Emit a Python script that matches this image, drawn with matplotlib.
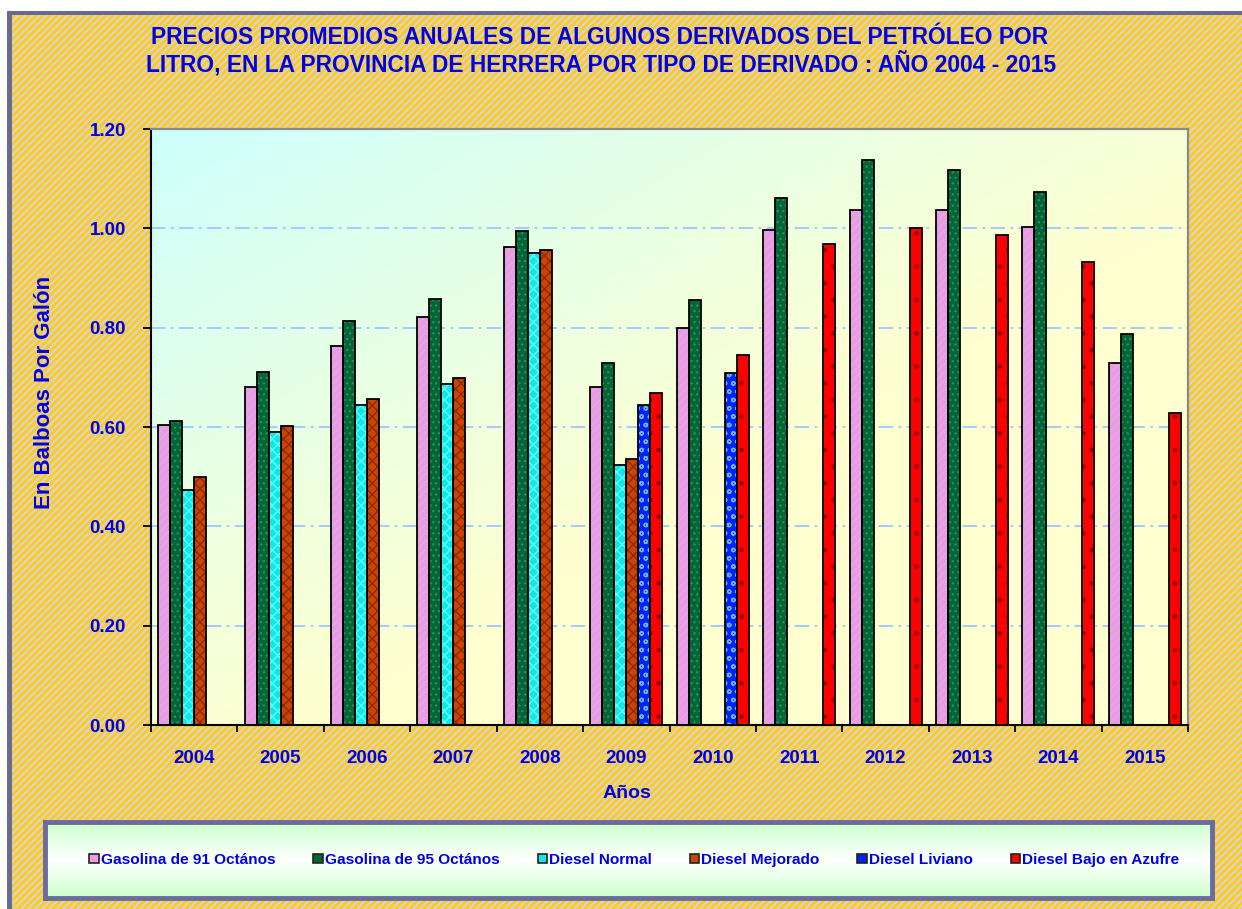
# Numpy (Array computing)
import numpy as np
# Matplotlib (Visualization)
import matplotlib
matplotlib.use('Agg')
import matplotlib.pyplot as plt
from matplotlib.patches import Patch
import sys

# Data (price per litre, balboas).
years = ['2004', '2005', '2006', '2007', '2008', '2009',
         '2010', '2011', '2012', '2013', '2014', '2015']
gasolina_91 = [0.605, 0.680, 0.763, 0.821, 0.963, 0.680, 0.800, 0.997, 1.037, 1.037, 1.003, 0.729]
gasolina_95 = [0.613, 0.711, 0.813, 0.858, 0.994, 0.729, 0.856, 1.062, 1.138, 1.117, 1.074, 0.788]
diesel_normal = [0.474, 0.589, 0.644, 0.687, 0.951, 0.523, None, None, None, None, None, None]
diesel_mejorado = [0.499, 0.603, 0.656, 0.699, 0.956, 0.536, None, None, None, None, None, None]
diesel_liviano = [None, None, None, None, None, 0.644, 0.708, None, None, None, None, None]
diesel_azufre = [None, None, None, None, None, 0.668, 0.745, 0.969, 1.000, 0.987, 0.932, 0.628]

series_names = ['Gasolina de 91 Octános', 'Gasolina de 95 Octános', 'Diesel Normal',
                'Diesel Mejorado', 'Diesel Liviano', 'Diesel Bajo en Azufre']
y_ticks = [0.0, 0.2, 0.4, 0.6, 0.8, 1.0, 1.2]

title_1 = 'PRECIOS PROMEDIOS ANUALES DE ALGUNOS DERIVADOS DEL PETRÓLEO POR'
title_2 = 'LITRO, EN LA PROVINCIA DE HERRERA POR TIPO DE DERIVADO : AÑO 2004 - 2015'

BLUE = '#0000E6'
FONT = 'Liberation Sans'


def main():
    W, H = 1242, 909
    fig = plt.figure(figsize=(W / 100, H / 100), dpi=100)
    fig.patch.set_facecolor('white')

    # Striped background (yellow / lavender diagonal lines) with slate border.
    rows, cols = np.mgrid[0:H, 0:W]
    stripe = ((rows + cols) % 7) < 3.5
    bg = np.where(stripe[..., None], np.array([255, 206, 20]), np.array([212, 208, 222])).astype(float)
    bg[:11, :] = 255
    bg[:, :7] = 255
    bg[11:15, 7:] = [105, 105, 150]
    bg[11:, 7:12] = [105, 105, 150]
    fig.figimage(bg / 255.0, 0, 0, origin='upper', zorder=-10)

    # Main axes.
    ax = fig.add_axes([151 / W, 1 - 725 / H, (1188 - 151) / W, (725 - 129) / H])
    ax.set_facecolor('none')

    #   Diagonal gradient cyan -> light yellow for the plot area.
    gy, gx = np.mgrid[0:1:200j, 0:1:300j]
    t = np.clip((gx + gy) / 1.15, 0, 1)[..., None]
    cyan = np.array([205, 255, 252]) / 255.0
    yellow = np.array([255, 255, 208]) / 255.0
    grad = cyan * (1 - t) + yellow * t
    ax.imshow(grad, extent=[-0.5, 11.5, 0, 1.2], aspect='auto', zorder=0, origin='upper')

    # Bars: fill + hatch first, then black outline on top.
    styles = [
        ('#EE9ADF', '#D6AEF5', '////'),
        ('#006633', '#2A8A66', '...'),
        ('#10E8E8', '#60FFFF', 'xxx'),
        ('#CC4400', '#8B2A00', 'xxx'),
        ('#0022FF', '#66B3FF', 'oo'),
        ('#FF0000', '#A00000', '.'),
    ]
    all_series = [gasolina_91, gasolina_95, diesel_normal, diesel_mejorado, diesel_liviano, diesel_azufre]
    n = len(years)
    x = np.arange(n)
    w = 12 / 86.4
    for k, (vals, (face, hcol, hatch)) in enumerate(zip(all_series, styles)):
        v = np.array([np.nan if a is None else a for a in vals], dtype=float)
        mask = ~np.isnan(v)
        xs = x[mask] + (k - 2.5) * w
        ax.bar(xs, v[mask], width=w, color=face, edgecolor=hcol, hatch=hatch,
               linewidth=0, zorder=2)
        ax.bar(xs, v[mask], width=w, fill=False, edgecolor='black', linewidth=1.3, zorder=3)

    # Axes limits and ticks.
    ax.set_xlim(-0.5, 11.5)
    ax.set_ylim(0, 1.2)
    ax.set_yticks(y_ticks, [f'{v:.2f}' for v in y_ticks])
    ax.set_xticks(np.arange(-0.5, 12, 1.0), [''] * 13)
    ax.set_xticks(x, years, minor=True)
    ax.tick_params(axis='y', direction='out', length=6, width=1.3, pad=12, colors='black',
                   labelcolor=BLUE, labelsize=13.5)
    ax.tick_params(axis='x', which='major', direction='out', length=5, width=1.3)
    ax.tick_params(axis='x', which='minor', length=0, pad=18, labelcolor=BLUE, labelsize=13.5)
    for lab in ax.get_xticklabels(minor=True) + ax.get_yticklabels():
        lab.set_fontweight('bold')
        lab.set_fontfamily(FONT)

    #   Grid lines (light blue dash-dot).
    for yv in y_ticks[1:-1]:
        ax.axhline(yv, color='#9CC8FF', linewidth=1.3, linestyle=(0, (8, 3, 1.5, 3)), zorder=1)

    #   Spines.
    for side in ['left', 'bottom']:
        ax.spines[side].set_color('black')
        ax.spines[side].set_linewidth(1.5)
    for side in ['top', 'right']:
        ax.spines[side].set_color('#8A8A8A')
        ax.spines[side].set_linewidth(1.6)

    # Titles and axis labels.
    fig.text(600 / W, 1 - 38 / H, title_1, ha='center', va='center', color=BLUE,
             fontsize=16.4, fontweight='bold', family=FONT)
    fig.text(601 / W, 1 - 64 / H, title_2, ha='center', va='center', color=BLUE,
             fontsize=16.4, fontweight='bold', family=FONT)
    fig.text(45 / W, 1 - 392 / H, 'En Balboas Por Galón', rotation=90, ha='center', va='center',
             color=BLUE, fontsize=16, fontweight='bold', family=FONT)
    fig.text(627 / W, 1 - 793 / H, 'Años', ha='center', va='center',
             color=BLUE, fontsize=14, fontweight='bold', family=FONT)

    # Legend box with vertical gradient.
    lax = fig.add_axes([45 / W, 1 - 898 / H, (1212 - 45) / W, (898 - 822) / H])
    ly = np.linspace(0, 1, 100)[:, None]
    s = np.abs(ly - 0.5) * 2
    green = np.array([205, 255, 205]) / 255.0
    lgrad = (1 - s[..., None]) * np.ones(3) + s[..., None] * green
    lgrad = np.repeat(lgrad, 10, axis=1)
    lax.imshow(lgrad, extent=[0, 1, 0, 1], aspect='auto')
    lax.set_xticks([])
    lax.set_yticks([])
    for sp in lax.spines.values():
        sp.set_color('#6B6B9E')
        sp.set_linewidth(3.5)
    handles = [Patch(facecolor=f, edgecolor='#222222', linewidth=1.2) for f, _, _ in styles]
    leg = lax.legend(handles, series_names, ncol=6, loc='center', frameon=False,
                     handlelength=0.6, handleheight=0.6, handletextpad=0.15, columnspacing=2.45,
                     prop={'family': FONT, 'weight': 'bold', 'size': 11.1},
                     bbox_to_anchor=(0.505, 0.5))
    for txt in leg.get_texts():
        txt.set_color(BLUE)

    fig.savefig('out.png', dpi=100)


if __name__ == '__main__':
    sys.exit(main())
